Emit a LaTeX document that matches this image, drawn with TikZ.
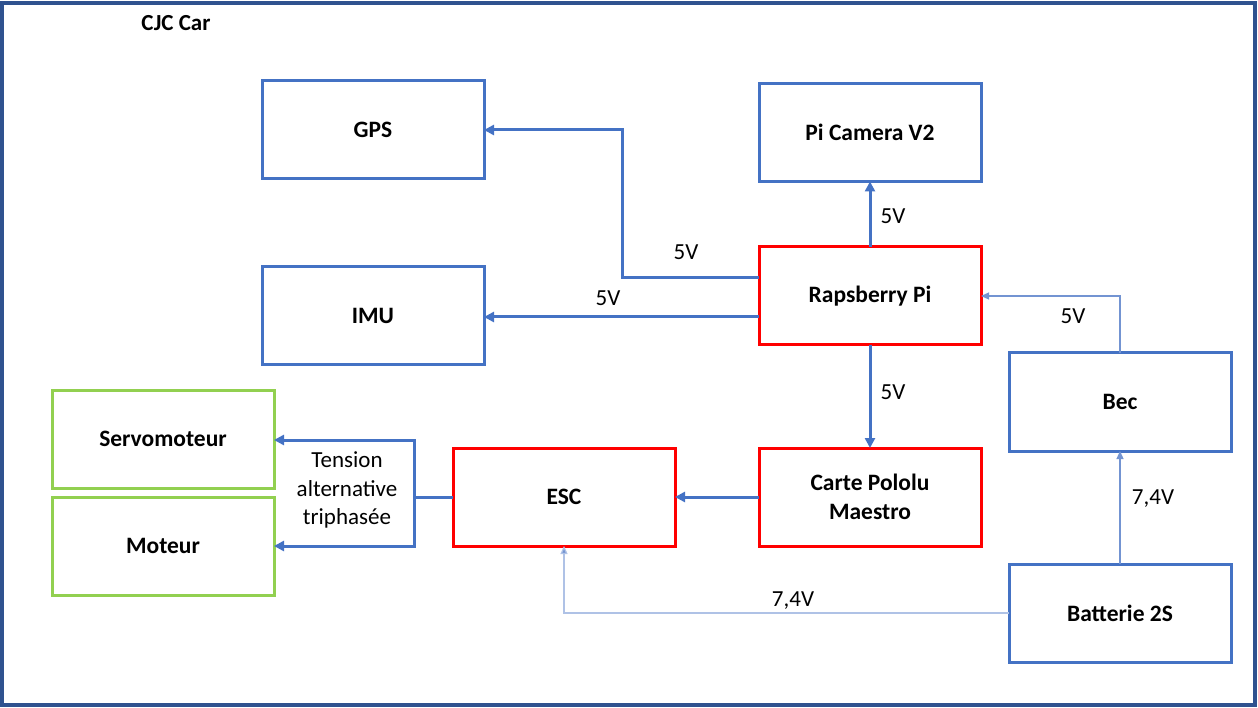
\documentclass[tikz,border=0pt]{standalone}
\usepackage{fontspec}
\setmainfont{Carlito}
\usetikzlibrary{arrows.meta,calc}
\definecolor{frameblue}{HTML}{2F528F}
\definecolor{boxblue}{HTML}{4472C4}
\definecolor{boxred}{HTML}{FF0000}
\definecolor{boxgreen}{HTML}{92D050}
\definecolor{thinblue}{HTML}{7394D2}
\definecolor{paleblue}{HTML}{AFC2E6}
\tikzset{
  blk/.style={draw, line width=3pt, minimum width=222pt, minimum height=98pt, inner sep=0pt, outer sep=0pt, align=center, font=\fontsize{23.5}{29}\selectfont\bfseries},
  blkblue/.style={blk, draw=boxblue},
  blkred/.style={blk, draw=boxred},
  blkgreen/.style={blk, draw=boxgreen},
  conn/.style={draw=boxblue, line width=3pt, -{Triangle[length=10pt,width=10pt]}},
  thinconn/.style={draw=thinblue, line width=1.2pt, -{Triangle[length=8pt,width=7pt]}},
  paleconn/.style={draw=paleblue, line width=1.2pt, -{Triangle[length=8pt,width=7pt,fill=thinblue]}},
  lbl/.style={font=\fontsize{23}{28.5}\selectfont, inner sep=0pt, align=center},
}
\begin{document}
\begin{tikzpicture}[x=1pt,y=-1pt]
\useasboundingbox (0,0) rectangle (1258,708);
\draw[frameblue, line width=4pt] (2,3) rectangle (1255,705);
\node[font=\fontsize{23}{26}\selectfont\bfseries, inner sep=0pt] (title) at (176,23) {CJC Car};

\node[blkblue] (gps) at (373,130) {GPS};
\node[blkblue] (cam) at (870,132.5) {Pi Camera V2};
\node[blkblue] (imu) at (373,316) {IMU};
\node[blkred] (rpi) at (870,296) {Rapsberry Pi};
\node[blkgreen] (servo) at (163,439) {Servomoteur};
\node[blkgreen] (mot) at (163,546) {Moteur};
\node[blkred] (esc) at (564,497) {ESC};
\node[blkred] (carte) at (870,497) {Carte Pololu\\Maestro};
\node[blkblue] (bec) at (1120,402) {Bec};
\node[blkblue] (batt) at (1120,613) {Batterie 2S};

\coordinate (kg) at (622,200);
\coordinate (j) at (414,497);

\draw[conn] ([yshift=18pt]rpi.west) -| (kg) |- (gps.east);
\draw[conn] ([yshift=-21pt]rpi.west) -- ([yshift=-21pt]rpi.west -| imu.east);
\draw[conn] (rpi.north) -- (cam.south);
\draw[conn] (rpi.south) -- (carte.north);
\draw[conn] (carte.west) -- (esc.east);
\draw[draw=boxblue, line width=3pt] (esc.west) -- (j);
\draw[conn] (j) |- ([yshift=-1pt]servo.east);
\draw[conn] (j) |- (mot.east);
\draw[thinconn] (bec.north) |- (rpi.east);
\draw[thinconn] (batt.north) -- (bec.south);
\draw[paleconn] (batt.west) -| (esc.south);

\node[lbl] (l1) at (686,252) {5V};
\node[lbl] (l2) at (608,298) {5V};
\node[lbl] (l3) at (893,216) {5V};
\node[lbl] (l4) at (893,392) {5V};
\node[lbl] (l5) at (1073,316) {5V};
\node[lbl] (l6) at (1153,499) {7,4V};
\node[lbl] (l7) at (793,601) {7,4V};
\node[lbl] (l8) at (347,490) {Tension\\alternative\\triphasée};
\end{tikzpicture}
\end{document}
